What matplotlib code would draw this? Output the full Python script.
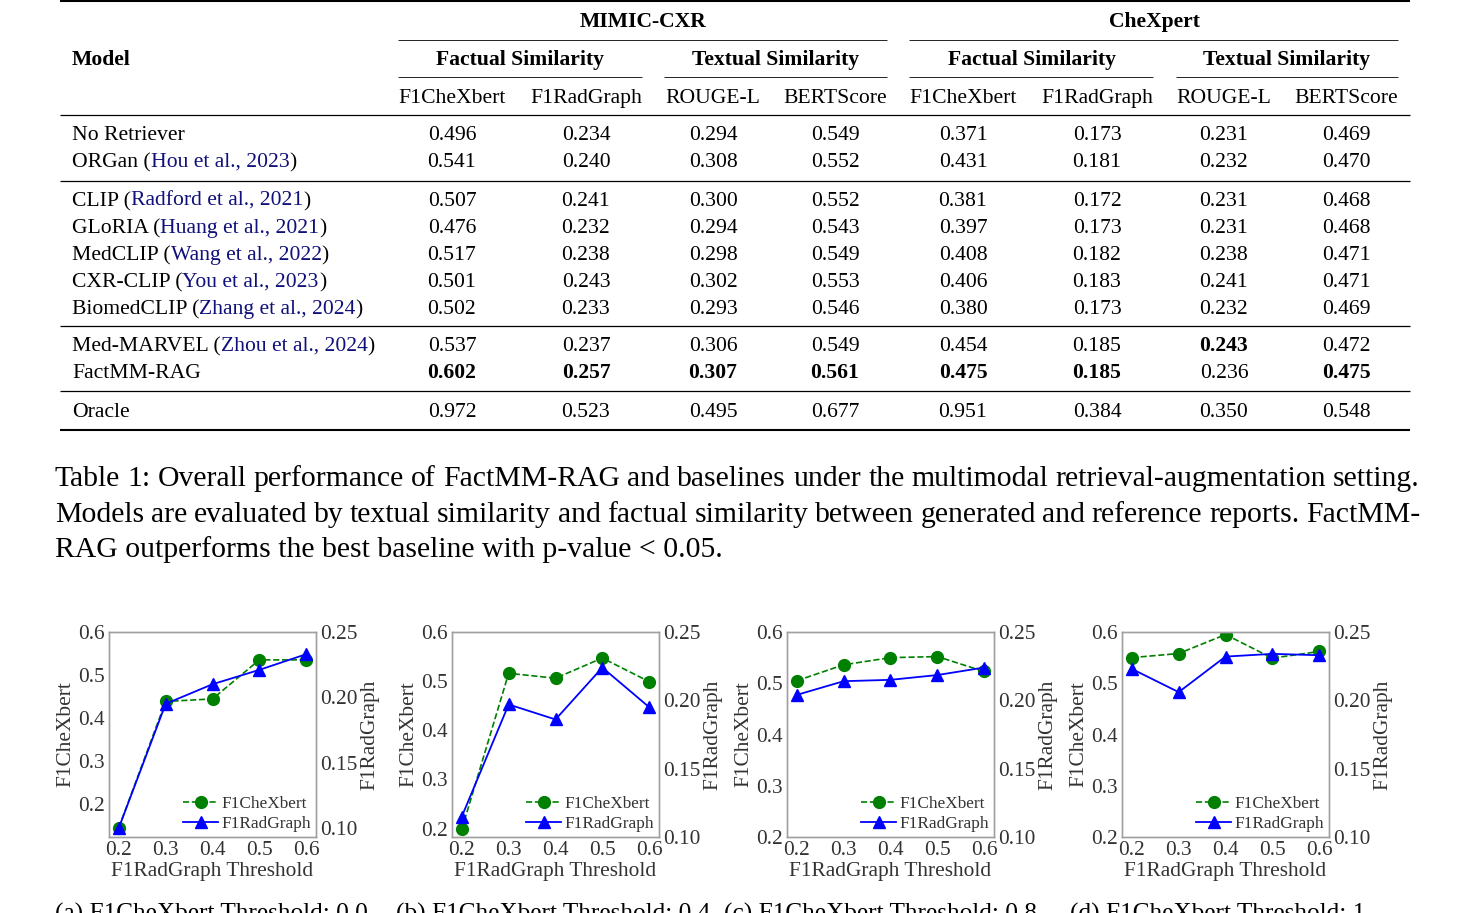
import matplotlib
matplotlib.use("Agg")
import matplotlib.pyplot as plt
from matplotlib.lines import Line2D

W, H = 1474, 913
plt.rcParams['font.family'] = ['Liberation Serif', 'DejaVu Serif']

# ---------------- data ----------------
models = ["No Retriever", "ORGan", "CLIP", "GLoRIA", "MedCLIP", "CXR-CLIP",
          "BiomedCLIP", "Med-MARVEL", "FactMM-RAG", "Oracle"]
citations = ["", "Hou et al., 2023", "Radford et al., 2021", "Huang et al., 2021",
             "Wang et al., 2022", "You et al., 2023", "Zhang et al., 2024",
             "Zhou et al., 2024", "", ""]
datasets = ["MIMIC-CXR", "CheXpert"]
groups = ["Factual Similarity", "Textual Similarity"] * 2
metrics = ["F1CheXbert", "F1RadGraph", "ROUGE-L", "BERTScore"] * 2
scores = [
    ["0.496", "0.234", "0.294", "0.549", "0.371", "0.173", "0.231", "0.469"],
    ["0.541", "0.240", "0.308", "0.552", "0.431", "0.181", "0.232", "0.470"],
    ["0.507", "0.241", "0.300", "0.552", "0.381", "0.172", "0.231", "0.468"],
    ["0.476", "0.232", "0.294", "0.543", "0.397", "0.173", "0.231", "0.468"],
    ["0.517", "0.238", "0.298", "0.549", "0.408", "0.182", "0.238", "0.471"],
    ["0.501", "0.243", "0.302", "0.553", "0.406", "0.183", "0.241", "0.471"],
    ["0.502", "0.233", "0.293", "0.546", "0.380", "0.173", "0.232", "0.469"],
    ["0.537", "0.237", "0.306", "0.549", "0.454", "0.185", "0.243", "0.472"],
    ["0.602", "0.257", "0.307", "0.561", "0.475", "0.185", "0.236", "0.475"],
    ["0.972", "0.523", "0.495", "0.677", "0.951", "0.384", "0.350", "0.548"],
]
bold_cells = [(7, 6), (8, 0), (8, 1), (8, 2), (8, 3), (8, 4), (8, 5), (8, 7)]

caption_lines = [
    "Table 1: Overall performance of FactMM-RAG and baselines under the multimodal retrieval-augmentation setting.",
    "Models are evaluated by textual similarity and factual similarity between generated and reference reports. FactMM-",
    "RAG outperforms the best baseline with p-value < 0.05.",
]

thresholds = [0.2, 0.3, 0.4, 0.5, 0.6]
chexbert_a = [0.144, 0.438, 0.444, 0.535, 0.535]
radgraph_a = [0.100, 0.195, 0.210, 0.221, 0.233]
chexbert_b = [0.199, 0.516, 0.506, 0.547, 0.499]
radgraph_b = [0.115, 0.197, 0.186, 0.224, 0.195]
chexbert_c = [0.505, 0.536, 0.550, 0.552, 0.523]
radgraph_c = [0.204, 0.214, 0.215, 0.2185, 0.224]
chexbert_d = [0.550, 0.558, 0.595, 0.549, 0.562]
radgraph_d = [0.223, 0.206, 0.232, 0.234, 0.233]
panel_titles = ["(a) F1CheXbert Threshold: 0.0", "(b) F1CheXbert Threshold: 0.4",
                "(c) F1CheXbert Threshold: 0.8", "(d) F1CheXbert Threshold: 1"]

# ---------------- figure ----------------
fig = plt.figure(figsize=(W / 100, H / 100), dpi=100)
renderer = fig.canvas.get_renderer()


def put(x, y, s, **kw):
    return fig.text(x / W, 1 - y / H, s, **kw)


def hline(x0, x1, y, lw):
    fig.add_artist(Line2D([x0 / W, x1 / W], [1 - y / H, 1 - y / H],
                          transform=fig.transFigure, color='black', lw=lw,
                          solid_capstyle='butt'))


def wid(t):
    return t.get_window_extent(renderer).width


FS = 15.6
CITE = '#10107a'

# rules
hline(60, 1410, 1.5, 1.5)
hline(60, 1410, 115, 0.9)
for y in (181, 326, 391):
    hline(60, 1410, y, 0.9)
hline(60, 1410, 430, 1.5)
hline(398, 887, 40, 0.6)
hline(909, 1398, 40, 0.6)
for a, b in ((398, 642), (664, 887), (909, 1153), (1176, 1398)):
    hline(a, b, 77, 0.6)

# headers
dataset_x = [643, 1154]
for d, x in zip(datasets, dataset_x):
    put(x, 27, d, fontsize=FS, fontweight='bold', ha='center', va='baseline')
put(72, 65, "Model", fontsize=FS, fontweight='bold', ha='left', va='baseline')
group_x = [520, 776, 1032, 1287]
for g, x in zip(groups, group_x):
    put(x, 65, g, fontsize=FS, fontweight='bold', ha='center', va='baseline')
col_x = [452, 586, 713, 835, 963, 1097, 1224, 1346]
for m, x in zip(metrics, col_x):
    put(x, 103, m, fontsize=FS, ha='center', va='baseline')

row_y = [133, 160, 199, 226, 253, 280, 307, 344, 371, 410]
for i, (name, cite, y) in enumerate(zip(models, citations, row_y)):
    yb = y + 7
    if cite:
        t = put(72, yb, name + " (", fontsize=FS, ha='left', va='baseline')
        x = 72 + wid(t)
        t2 = put(x, yb, cite, fontsize=FS, ha='left', va='baseline', color=CITE)
        x += wid(t2)
        put(x, yb, ")", fontsize=FS, ha='left', va='baseline')
    else:
        put(72, yb, name, fontsize=FS, ha='left', va='baseline')
    for j, (v, x) in enumerate(zip(scores[i], col_x)):
        put(x, yb, v, fontsize=FS, ha='center', va='baseline',
            fontweight='bold' if (i, j) in bold_cells else 'normal')

# caption (justified)
cap_fs = 20.0
probe = put(0, 0, caption_lines[2], fontsize=cap_fs)
cap_fs = cap_fs * 667.0 / wid(probe)
probe.remove()
cap_base = [486, 522, 557]
for k, (line, yb) in enumerate(zip(caption_lines, cap_base)):
    if k < 2:
        words = line.split(" ")
        texts = [put(0, yb, w, fontsize=cap_fs, ha='left', va='baseline') for w in words]
        ws = [wid(t) for t in texts]
        gap = (1420 - 55 - sum(ws)) / (len(words) - 1)
        x = 55
        for t, w in zip(texts, ws):
            t.set_x(x / W)
            x += w + gap
    else:
        put(55, yb, line, fontsize=cap_fs, ha='left', va='baseline')

# ---------------- charts ----------------
panels = [
    (109, chexbert_a, radgraph_a, (0.122, 0.6), (0.093, 0.25)),
    (452, chexbert_b, radgraph_b, (0.183, 0.6), (0.10, 0.25)),
    (787, chexbert_c, radgraph_c, (0.2, 0.6), (0.10, 0.25)),
    (1122, chexbert_d, radgraph_d, (0.2, 0.6), (0.10, 0.25)),
]
sub_x = [55, 396, 724, 1070]
TFS = 15.4
GRAY = '#333333'
for (left, chx, rad, yl, yr), title, sx in zip(panels, panel_titles, sub_x):
    top, bottom, width = 632, 837, 207
    ax = fig.add_axes([left / W, 1 - bottom / H, width / W, (bottom - top) / H])
    ax2 = ax.twinx()
    l1, = ax.plot(thresholds, chx, color='green', ls='--', lw=1.2, marker='o',
                  markersize=8.5, label='F1CheXbert')
    l2, = ax2.plot(thresholds, rad, color='blue', ls='-', lw=1.3, marker='^',
                   markersize=8.5, label='F1RadGraph')
    ax.set_xlim(0.179, 0.621)
    ax.set_ylim(*yl)
    ax2.set_ylim(*yr)
    ax.set_xticks(thresholds)
    ax.set_xticklabels([f"{t:.1f}" for t in thresholds])
    ax.set_yticks([0.2, 0.3, 0.4, 0.5, 0.6])
    ax.set_yticklabels(["0.2", "0.3", "0.4", "0.5", "0.6"])
    ax2.set_yticks([0.10, 0.15, 0.20, 0.25])
    ax2.set_yticklabels(["0.10", "0.15", "0.20", "0.25"])
    for a in (ax, ax2):
        a.tick_params(length=0, pad=3, labelsize=TFS, labelcolor=GRAY)
        for sp in a.spines.values():
            sp.set_color('#a0a0a0')
            sp.set_linewidth(1.0)
    ax.set_xlabel("F1RadGraph Threshold", fontsize=TFS, color=GRAY, labelpad=1)
    ax.set_ylabel("F1CheXbert", fontsize=TFS, color=GRAY, labelpad=2)
    ax2.set_ylabel("F1RadGraph", fontsize=TFS, color=GRAY, labelpad=2)
    ax2.legend([l1, l2], ['F1CheXbert', 'F1RadGraph'], loc='lower right',
               frameon=False, fontsize=12.4, handlelength=2.0,
               borderaxespad=0.1, borderpad=0.2, labelspacing=0.2,
               handletextpad=0.2, labelcolor=GRAY)
    put(sx, 903, title, fontsize=18.2, ha='left', va='top')

fig.savefig("out.png", dpi=100)
